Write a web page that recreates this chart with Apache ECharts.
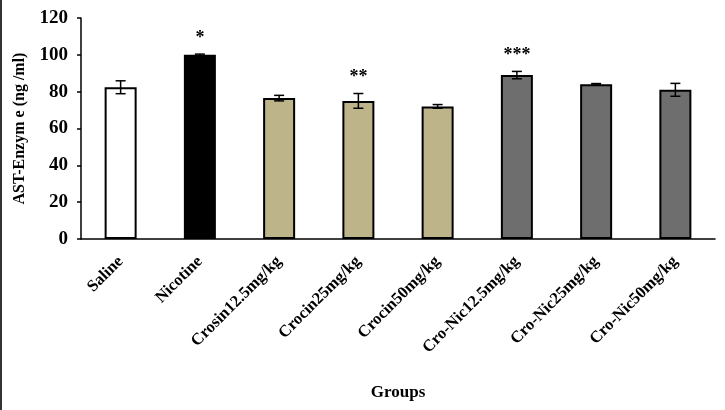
<!DOCTYPE html>
<html>
<head>
<meta charset="utf-8">
<script src="https://cdn.jsdelivr.net/npm/echarts@6/dist/echarts.min.js"></script>
<style>
  html, body { margin: 0; padding: 0; background: #fff; }
  #chart { width: 725px; height: 410px; }
</style>
</head>
<body>
<div id="chart"></div>
<script>
// groups and values
const groups = ['Saline', 'Nicotine', 'Crosin12.5mg/kg', 'Crocin25mg/kg', 'Crocin50mg/kg',
  'Cro-Nic12.5mg/kg', 'Cro-Nic25mg/kg', 'Cro-Nic50mg/kg'];
const means = [82.4, 100, 76.5, 75, 72, 89, 84, 81];
const errors = [3.5, 0.4, 1.5, 4, 1, 2, 0.4, 3.5];
const stars = ['', '*', '', '**', '', '***', '', ''];
const barColors = ['#ffffff', '#000000', '#bdb48a', '#bdb48a', '#bdb48a', '#6e6e6e', '#6e6e6e', '#6e6e6e'];
const yTicks = [0, 20, 40, 60, 80, 100, 120];

const serif = '"Liberation Serif", "DejaVu Serif", serif';

const chart = echarts.init(document.getElementById('chart'));

const option = {
  backgroundColor: '#fff',
  animation: false,
  grid: { left: 81, right: 10, top: 18, bottom: 171, containLabel: false, outerBoundsMode: 'none' },
  graphic: [
    // dark frame line at the left edge of the picture
    { type: 'rect', shape: { x: 0, y: 0, width: 2, height: 410 }, style: { fill: '#333' } }
  ],
  xAxis: {
    type: 'category',
    data: groups,
    name: 'Groups',
    nameLocation: 'middle',
    nameGap: 145,
    nameTextStyle: { fontFamily: serif, fontWeight: 'bold', fontSize: 17, color: '#000' },
    axisTick: { show: false },
    axisLine: { lineStyle: { color: '#000', width: 1.5 } },
    axisLabel: {
      rotate: 45,
      margin: 20,
      interval: 0,
      fontFamily: serif,
      fontWeight: 'bold',
      fontSize: 16.5,
      color: '#000'
    }
  },
  yAxis: {
    type: 'value',
    min: yTicks[0],
    max: yTicks[yTicks.length - 1],
    interval: 20,
    name: 'AST-Enzym e (ng /ml)',
    nameLocation: 'middle',
    nameGap: 53,
    nameTextStyle: { fontFamily: serif, fontWeight: 'bold', fontSize: 16, color: '#000' },
    splitLine: { show: false },
    axisLine: { show: true, lineStyle: { color: '#000', width: 1.5 } },
    axisTick: { show: true, inside: false, length: 4, lineStyle: { color: '#000', width: 1.5 } },
    axisLabel: {
      margin: 13,
      fontFamily: serif,
      fontWeight: 'bold',
      fontSize: 19,
      color: '#000'
    }
  },
  series: [
    {
      type: 'bar',
      barWidth: 32,
      data: means.map((v, i) => ({
        value: v,
        itemStyle: { color: barColors[i], borderColor: '#000', borderWidth: 2 }
      }))
    },
    {
      // error bars plus significance stars
      type: 'custom',
      data: means.map((v, i) => [i, v, errors[i]]),
      z: 10,
      renderItem: function (params, api) {
        const i = api.value(0);
        const m = api.value(1);
        const e = api.value(2);
        const top = api.coord([i, m + e]);
        const bot = api.coord([i, m - e]);
        const x = top[0];
        const hw = 5;
        const lineStyle = { stroke: '#000', lineWidth: 1.5 };
        const children = [
          { type: 'line', shape: { x1: x, y1: top[1], x2: x, y2: bot[1] }, style: lineStyle },
          { type: 'line', shape: { x1: x - hw, y1: top[1], x2: x + hw, y2: top[1] }, style: lineStyle },
          { type: 'line', shape: { x1: x - hw, y1: bot[1], x2: x + hw, y2: bot[1] }, style: lineStyle }
        ];
        const s = stars[params.dataIndex];
        if (s) {
          children.push({
            type: 'text',
            x: x,
            y: top[1] - 16,
            style: {
              text: s,
              align: 'center',
              verticalAlign: 'middle',
              fontFamily: serif,
              fontWeight: 'bold',
              fontSize: 18,
              fill: '#000'
            }
          });
        }
        return { type: 'group', children: children };
      }
    }
  ]
};

chart.setOption(option);
</script>
</body>
</html>
